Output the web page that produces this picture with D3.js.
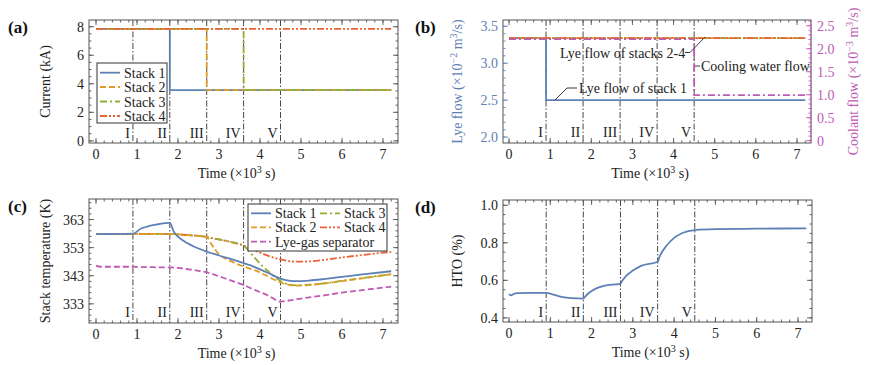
<!DOCTYPE html>
<html>
<head>
<meta charset="utf-8">
<title>Stack switching</title>
<script src="https://cdn.jsdelivr.net/npm/d3@7"></script>
<style>
body { margin: 0; background: #fff; }
svg { font-family: "Liberation Serif", "DejaVu Serif", serif; }
</style>
</head>
<body>
<svg id="chart" width="869" height="365"></svg>
<script>
// ---- data ----
var phases = [0.9, 1.8, 2.7, 3.6, 4.5];
var phaseLabels = ["I", "II", "III", "IV", "V"];

// (a) current, step changes
var curTime = [0, 0.9, 1.8, 2.7, 3.6, 4.5, 7.2];
var curStack1 = [7.85, 7.85, 3.55, 3.55, 3.55, 3.55, 3.55];
var curStack2 = [7.85, 7.85, 7.85, 3.55, 3.55, 3.55, 3.55];
var curStack3 = [7.85, 7.85, 7.85, 7.85, 3.55, 3.55, 3.55];
var curStack4 = [7.85, 7.85, 7.85, 7.85, 7.85, 7.85, 7.85];

// (b) flows
var flowTime = [0, 0.9, 1.8, 2.7, 3.6, 4.5, 7.2];
var lyeStack1 = [3.34, 2.5, 2.5, 2.5, 2.5, 2.5, 2.5];
var lyeStacks24 = [3.34, 3.34, 3.34, 3.34, 3.34, 3.34, 3.34];
var coolantFlow = [2.21, 2.21, 2.21, 2.21, 2.21, 0.99, 0.99];

// (c) temperatures
var tempTime = [0, 0.1, 0.45, 0.9, 1.1, 1.3, 1.5, 1.8, 1.9, 2.0, 2.2, 2.4, 2.7, 2.8, 2.9, 3.0, 3.3, 3.6, 3.7, 3.8, 3.9, 4.2, 4.5, 4.7, 4.9, 5.2, 5.6, 6.0, 6.5, 7.2];
var tempStack1 = [357.8, 357.8, 357.9, 358, 359.8, 360.7, 361.3, 361.8, 358.6, 356.9, 354.8, 353.3, 351.6, 351.1, 350.7, 350.2, 348.9, 347.5, 347, 346.5, 345.9, 344, 342, 341.3, 341.1, 341.3, 341.9, 342.6, 343.5, 344.6];
var tempStack2 = [357.8, 357.8, 357.9, 357.9, 357.9, 357.9, 357.9, 357.8, 357.8, 357.7, 357.5, 357.3, 356.8, 354.6, 352.4, 350.7, 348.1, 346.3, 345.8, 345.3, 344.8, 342.7, 340.6, 339.8, 339.5, 339.7, 340.3, 341.1, 342.1, 343.5];
var tempStack3 = [357.8, 357.8, 357.9, 357.9, 357.9, 357.9, 357.9, 357.8, 357.8, 357.7, 357.5, 357.3, 356.8, 356.5, 356.2, 355.9, 355, 353.7, 352.3, 350.6, 348.9, 344.6, 341.1, 339.9, 339.6, 339.8, 340.4, 341.2, 342.2, 343.6];
var tempStack4 = [357.8, 357.8, 357.9, 357.9, 357.9, 357.9, 357.9, 357.8, 357.8, 357.7, 357.5, 357.3, 356.8, 356.5, 356.2, 355.9, 355, 353.7, 353, 352.4, 351.8, 350.1, 348.8, 348.2, 348, 348.1, 348.7, 349.5, 350.4, 351.5];
var tempSeparator = [346.6, 346.2, 346.2, 346.2, 346.1, 346.1, 346, 346, 345.9, 345.8, 345.4, 345, 344.2, 343.8, 343.3, 342.8, 341.3, 339.7, 339.1, 338.4, 337.8, 336, 333.8, 334.2, 334.7, 335.3, 336.1, 337, 337.9, 339.1];

// (d) HTO
var htoTime = [0, 0.05, 0.1, 0.2, 0.5, 0.9, 1.1, 1.3, 1.5, 1.8, 1.85, 1.95, 2.1, 2.3, 2.7, 2.75, 2.85, 3.0, 3.2, 3.6, 3.65, 3.8, 4.0, 4.2, 4.5, 5.0, 6.0, 7.2];
var htoValue = [0.527, 0.52, 0.526, 0.532, 0.533, 0.533, 0.522, 0.51, 0.505, 0.503, 0.515, 0.535, 0.556, 0.571, 0.583, 0.6, 0.627, 0.652, 0.677, 0.699, 0.728, 0.78, 0.826, 0.852, 0.868, 0.873, 0.875, 0.877];

var xTicks = [0, 1, 2, 3, 4, 5, 6, 7];

var C = { s1: "#5E81B5", s2: "#E19C24", s3: "#8FB032", s4: "#EB6235", sep: "#BE5BB5" };
var DASH = { s1: null, s2: "6,3", s3: "7,3,2,3", s4: "7,2,2,2,2,2", sep: "6,3" };

var svg = d3.select("#chart");

function zip(t, v) { return t.map(function(d, i) { return [d, v[i]]; }); }

function ticksIn(g, scale, vals, orient, len, pos, color) {
  vals.forEach(function(v) {
    var p = scale(v);
    if (orient === "bottom") g.append("line").attr("x1", p).attr("x2", p).attr("y1", pos).attr("y2", pos - len);
    if (orient === "top") g.append("line").attr("x1", p).attr("x2", p).attr("y1", pos).attr("y2", pos + len);
    if (orient === "left") g.append("line").attr("y1", p).attr("y2", p).attr("x1", pos).attr("x2", pos + len);
    if (orient === "right") g.append("line").attr("y1", p).attr("y2", p).attr("x1", pos).attr("x2", pos - len);
  });
  g.selectAll("line").attr("stroke", color || "#555").attr("stroke-width", 0.9);
}

function range(a, b, s) {
  var out = [];
  for (var v = a; v <= b + 1e-9; v += s) out.push(+v.toFixed(4));
  return out;
}

function panel(o) {
  var x = d3.scaleLinear().domain(o.xDomain).range([o.left, o.right]);
  var y = d3.scaleLinear().domain(o.yDomain).range([o.bottom, o.top]);
  var g = svg.append("g");

  // phase lines
  phases.forEach(function(p, i) {
    g.append("line").attr("x1", x(p)).attr("x2", x(p)).attr("y1", o.top).attr("y2", o.bottom)
      .attr("stroke", "#333").attr("stroke-width", 0.9).attr("stroke-dasharray", "6,2,1.5,2");
    g.append("text").attr("x", x(p) - 3).attr("y", o.labelY).attr("text-anchor", "end")
      .attr("font-size", 14).attr("fill", "#222").text(phaseLabels[i]);
  });

  // frame
  g.append("rect").attr("x", o.left).attr("y", o.top).attr("width", o.right - o.left).attr("height", o.bottom - o.top)
    .attr("fill", "none").attr("stroke", "#555").attr("stroke-width", 1);

  // x ticks
  ticksIn(g.append("g"), x, xTicks, "bottom", 5, o.bottom);
  ticksIn(g.append("g"), x, range(0, 7.2, 0.2), "bottom", 2.5, o.bottom);
  ticksIn(g.append("g"), x, xTicks, "top", 5, o.top);
  ticksIn(g.append("g"), x, range(0, 7.2, 0.2), "top", 2.5, o.top);
  xTicks.forEach(function(t) {
    g.append("text").attr("x", x(t)).attr("y", o.bottom + 16).attr("text-anchor", "middle")
      .attr("font-size", 14).attr("fill", "#222").text(t);
  });
  var xt = g.append("text").attr("x", (o.left + o.right) / 2 - 7).attr("y", o.bottom + 35)
    .attr("text-anchor", "middle").attr("font-size", 14).attr("fill", "#222");
  xt.append("tspan").text("Time (\u00d710");
  xt.append("tspan").attr("dy", -5).attr("font-size", 10).text("3");
  xt.append("tspan").attr("dy", 5).text(" s)");

  // y axis left
  var lc = o.yColor || "#222";
  ticksIn(g.append("g"), y, o.yTicks, "left", 5, o.left, o.yColor ? o.yColor : "#555");
  ticksIn(g.append("g"), y, o.yMinor, "left", 2.5, o.left, o.yColor ? o.yColor : "#555");
  if (!o.y2) {
    ticksIn(g.append("g"), y, o.yTicks, "right", 5, o.right);
    ticksIn(g.append("g"), y, o.yMinor, "right", 2.5, o.right);
  }
  o.yTicks.forEach(function(t) {
    g.append("text").attr("x", o.left - 5).attr("y", y(t) + 5).attr("text-anchor", "end")
      .attr("font-size", 14).attr("fill", lc).text(o.yFormat ? o.yFormat(t) : t);
  });
  var yt = g.append("text").attr("transform", "translate(" + o.yTitleX + "," + ((o.top + o.bottom) / 2) + ") rotate(-90)")
    .attr("text-anchor", "middle").attr("font-size", 14).attr("fill", lc);
  o.yTitle(yt);

  // panel letter
  svg.append("text").attr("x", o.letterX).attr("y", o.top + 13).attr("font-size", 17).attr("font-weight", "bold")
    .attr("fill", "#111").text(o.letter);

  return { g: g, x: x, y: y };
}

function drawLine(g, x, y, t, v, key, curve) {
  var line = d3.line().x(function(d) { return x(d[0]); }).y(function(d) { return y(d[1]); }).curve(curve || d3.curveLinear);
  g.append("path").datum(zip(t, v)).attr("d", line).attr("fill", "none")
    .attr("stroke", C[key]).attr("stroke-width", 1.8).attr("stroke-dasharray", DASH[key]);
}

function legendRow(g, x, yy, key, label) {
  g.append("line").attr("x1", x).attr("x2", x + 20).attr("y1", yy).attr("y2", yy)
    .attr("stroke", C[key]).attr("stroke-width", 1.8).attr("stroke-dasharray", DASH[key]);
  g.append("text").attr("x", x + 24).attr("y", yy + 5).attr("font-size", 14).attr("fill", "#222").text(label);
}

function sup(el, parts) {
  parts.forEach(function(p) {
    if (p[1] === "sup") el.append("tspan").attr("dy", -5).attr("font-size", 10).text(p[0]);
    else if (p[1] === "down") el.append("tspan").attr("dy", 5).text(p[0]);
    else el.append("tspan").text(p[0]);
  });
}

var stepCurve = d3.curveStepAfter;

// (a)
var pa = panel({
  letter: "(a)", letterX: 8,
  left: 89, right: 398, top: 20, bottom: 143,
  xDomain: [-0.171, 7.366], yDomain: [-0.15, 8.47],
  yTicks: [0, 2, 4, 6, 8], yMinor: range(0, 8, 0.5),
  labelY: 138, yTitleX: 50,
  yTitle: function(t) { t.text("Current (kA)"); }
});
drawLine(pa.g, pa.x, pa.y, curTime, curStack1, "s1", stepCurve);
drawLine(pa.g, pa.x, pa.y, curTime, curStack2, "s2", stepCurve);
drawLine(pa.g, pa.x, pa.y, curTime, curStack3, "s3", stepCurve);
drawLine(pa.g, pa.x, pa.y, curTime, curStack4, "s4", stepCurve);
var la = pa.g.append("g");
la.append("rect").attr("x", 97).attr("y", 63).attr("width", 70).attr("height", 60)
  .attr("fill", "#fff").attr("stroke", "#333").attr("stroke-width", 1);
legendRow(la, 100, 72.7, "s1", "Stack 1");
legendRow(la, 100, 87, "s2", "Stack 2");
legendRow(la, 100, 101.5, "s3", "Stack 3");
legendRow(la, 100, 116, "s4", "Stack 4");

// (b)
var pb = panel({
  letter: "(b)", letterX: 415,
  left: 503, right: 811, top: 20, bottom: 143,
  xDomain: [-0.146, 7.34], yDomain: [1.92, 3.585],
  yTicks: [2.0, 2.5, 3.0, 3.5], yMinor: range(2.0, 3.5, 0.1), y2: true,
  yColor: C.s1, yFormat: d3.format(".1f"),
  labelY: 137, yTitleX: 462,
  yTitle: function(t) { sup(t, [["Lye flow (\u00d710"], ["\u22122", "sup"], [" m", "down"], ["3", "sup"], ["/s)", "down"]]); }
});
var y2 = d3.scaleLinear().domain([-0.05, 2.625]).range([143, 20]);
ticksIn(pb.g.append("g"), y2, [0, 0.5, 1.0, 1.5, 2.0, 2.5], "right", 5, 811, C.sep);
ticksIn(pb.g.append("g"), y2, range(0, 2.6, 0.1), "right", 2.5, 811, C.sep);
pb.g.append("line").attr("x1", 811).attr("x2", 811).attr("y1", 20).attr("y2", 143)
  .attr("stroke", C.sep).attr("stroke-width", 1.2).attr("stroke-dasharray", "2,1.5");
[0, 0.5, 1.0, 1.5, 2.0, 2.5].forEach(function(t) {
  pb.g.append("text").attr("x", 817).attr("y", y2(t) + 5).attr("font-size", 14).attr("fill", C.sep)
    .text(t === 0 ? "0" : d3.format(".1f")(t));
});
var y2t = pb.g.append("text").attr("transform", "translate(858,81.5) rotate(-90)")
  .attr("text-anchor", "middle").attr("font-size", 14).attr("fill", C.sep);
sup(y2t, [["Coolant flow (\u00d710"], ["\u22123", "sup"], [" m", "down"], ["3", "sup"], ["/s)", "down"]]);

drawLine(pb.g, pb.x, pb.y, flowTime, lyeStack1, "s1", stepCurve);
drawLine(pb.g, pb.x, pb.y, flowTime, lyeStacks24, "s2", stepCurve);
drawLine(pb.g, pb.x, pb.y, flowTime, lyeStacks24, "s3", stepCurve);
drawLine(pb.g, pb.x, pb.y, flowTime, lyeStacks24, "s4", stepCurve);
var coolLine = d3.line().x(function(d) { return pb.x(d[0]); }).y(function(d) { return y2(d[1]); }).curve(stepCurve);
pb.g.append("path").datum(zip(flowTime, coolantFlow)).attr("d", coolLine).attr("fill", "none")
  .attr("stroke", C.sep).attr("stroke-width", 1.8).attr("stroke-dasharray", "7,3,2,3");

// annotations
function note(g, pts, tx, ty, label) {
  g.append("polyline").attr("points", pts.map(function(p) { return p.join(","); }).join(" "))
    .attr("fill", "none").attr("stroke", "#222").attr("stroke-width", 0.9);
  g.append("text").attr("x", tx).attr("y", ty).attr("font-size", 14).attr("fill", "#222").text(label);
}
note(pb.g, [[685, 52.5], [690, 52.5], [705, 37]], 560, 58, "Lye flow of stacks 2-4");
note(pb.g, [[695, 66], [700, 66]], 701, 71, "Cooling water flow");
note(pb.g, [[555, 100], [567, 88], [577, 88]], 579, 93, "Lye flow of stack 1");

// (c)
var pc = panel({
  letter: "(c)", letterX: 8,
  left: 89, right: 398, top: 199, bottom: 323,
  xDomain: [-0.171, 7.366], yDomain: [326.2, 370.3],
  yTicks: [333, 343, 353, 363], yMinor: range(327, 369, 2),
  labelY: 317, yTitleX: 50,
  yTitle: function(t) { t.text("Stack temperature (K)"); }
});
var smooth = d3.curveMonotoneX;
drawLine(pc.g, pc.x, pc.y, tempTime, tempSeparator, "sep", smooth);
drawLine(pc.g, pc.x, pc.y, tempTime, tempStack4, "s4", smooth);
drawLine(pc.g, pc.x, pc.y, tempTime, tempStack3, "s3", smooth);
drawLine(pc.g, pc.x, pc.y, tempTime, tempStack2, "s2", smooth);
drawLine(pc.g, pc.x, pc.y, tempTime, tempStack1, "s1", smooth);
var lc = pc.g.append("g");
lc.append("rect").attr("x", 248).attr("y", 204).attr("width", 139).attr("height", 47)
  .attr("fill", "#fff").attr("stroke", "#333").attr("stroke-width", 1);
legendRow(lc, 251, 213.3, "s1", "Stack 1");
legendRow(lc, 251, 227.3, "s2", "Stack 2");
legendRow(lc, 251, 241.7, "sep", "Lye-gas separator");
legendRow(lc, 320, 213.3, "s3", "Stack 3");
legendRow(lc, 320, 227.3, "s4", "Stack 4");

// (d)
var pd = panel({
  letter: "(d)", letterX: 415,
  left: 503, right: 812, top: 200, bottom: 322,
  xDomain: [-0.146, 7.34], yDomain: [0.378, 1.028],
  yTicks: [0.4, 0.6, 0.8, 1.0], yMinor: range(0.4, 1.0, 0.05), yFormat: d3.format(".1f"),
  labelY: 317, yTitleX: 462,
  yTitle: function(t) { t.text("HTO (%)"); }
});
drawLine(pd.g, pd.x, pd.y, htoTime, htoValue, "s1", smooth);
</script>
</body>
</html>
